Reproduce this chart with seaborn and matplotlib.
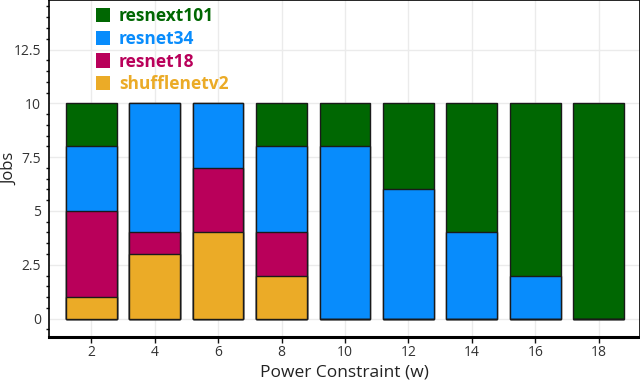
import numpy as np
import pandas as pd
import matplotlib
matplotlib.use("Agg")
import matplotlib.pyplot as plt
import seaborn as sns
from matplotlib.patches import Patch
from matplotlib.ticker import MultipleLocator

# power constraint settings and jobs per model
power = [2, 4, 6, 8, 10, 12, 14, 16, 18]
shufflenetv2 = [1, 3, 4, 2, 0, 0, 0, 0, 0]
resnet18 = [4, 1, 3, 2, 0, 0, 0, 0, 0]
resnet34 = [3, 6, 3, 4, 8, 6, 4, 2, 0]
resnext101 = [2, 0, 0, 2, 2, 4, 6, 8, 10]

models = ["shufflenetv2", "resnet18", "resnet34", "resnext101"]
colors = {"shufflenetv2": "#ebab27", "resnet18": "#b9005a",
          "resnet34": "#088cfc", "resnext101": "#006702"}

df = pd.DataFrame({"power": power, "shufflenetv2": shufflenetv2,
                   "resnet18": resnet18, "resnet34": resnet34,
                   "resnext101": resnext101})
cum = df[models].cumsum(axis=1)

sns.set_style("white")
plt.rcParams['font.family'] = ['Open Sans', 'DejaVu Sans']

fig = plt.figure(figsize=(6.4, 3.85), dpi=100)
ax = fig.add_axes([0.077, 0.125, 0.923, 0.875])

# draw cumulative bars from top layer down
for m in reversed(models):
    sns.barplot(x=df["power"], y=cum[m], native_scale=True, color=colors[m],
                saturation=1, edgecolor="#1a1a1a", linewidth=1.0, ax=ax,
                width=0.8, zorder=3)

ax.set_xlim(0.68, 19.3)
ax.set_ylim(-0.85, 14.8)
ax.set_xticks(power)
ax.set_yticks([0, 2.5, 5, 7.5, 10, 12.5])
ax.set_yticklabels(["0", "2.5", "5", "7.5", "10", "12.5"])
ax.yaxis.set_minor_locator(MultipleLocator(0.5))
ax.grid(True, color="#ebebeb", linewidth=1.0, zorder=0)
ax.set_axisbelow(True)

ax.tick_params(axis="both", which="major", direction="out", length=4,
               width=1, pad=2, colors="#111111", labelcolor="#333333",
               labelsize=10)
ax.tick_params(axis="y", which="minor", direction="out", length=2.5,
               width=1, colors="#111111", left=True)
ax.tick_params(axis="x", which="major", bottom=True)

for s in ["left", "top", "right"]:
    ax.spines[s].set_color("#000000")
    ax.spines[s].set_linewidth(1.2)
ax.spines["bottom"].set_color("#000000")
ax.spines["bottom"].set_linewidth(2.2)

ax.set_xlabel("Power Constraint (w)", fontsize=12.5, color="#222222",
              labelpad=3)
ax.set_ylabel("Jobs", fontsize=12, color="#222222")
ax.yaxis.set_label_coords(-0.052, 0.5)

order = ["resnext101", "resnet34", "resnet18", "shufflenetv2"]
handles = [Patch(facecolor=colors[m], edgecolor="none") for m in order]
leg = ax.legend(handles, order, loc="upper left", bbox_to_anchor=(0.053, 1.025),
                frameon=False, handlelength=0.8, handleheight=0.9,
                handletextpad=0.5, labelspacing=0.27,
                prop={"weight": "bold", "size": 12.5})
for t, m in zip(leg.get_texts(), order):
    t.set_color(colors[m])

fig.savefig("out.png", dpi=100)
